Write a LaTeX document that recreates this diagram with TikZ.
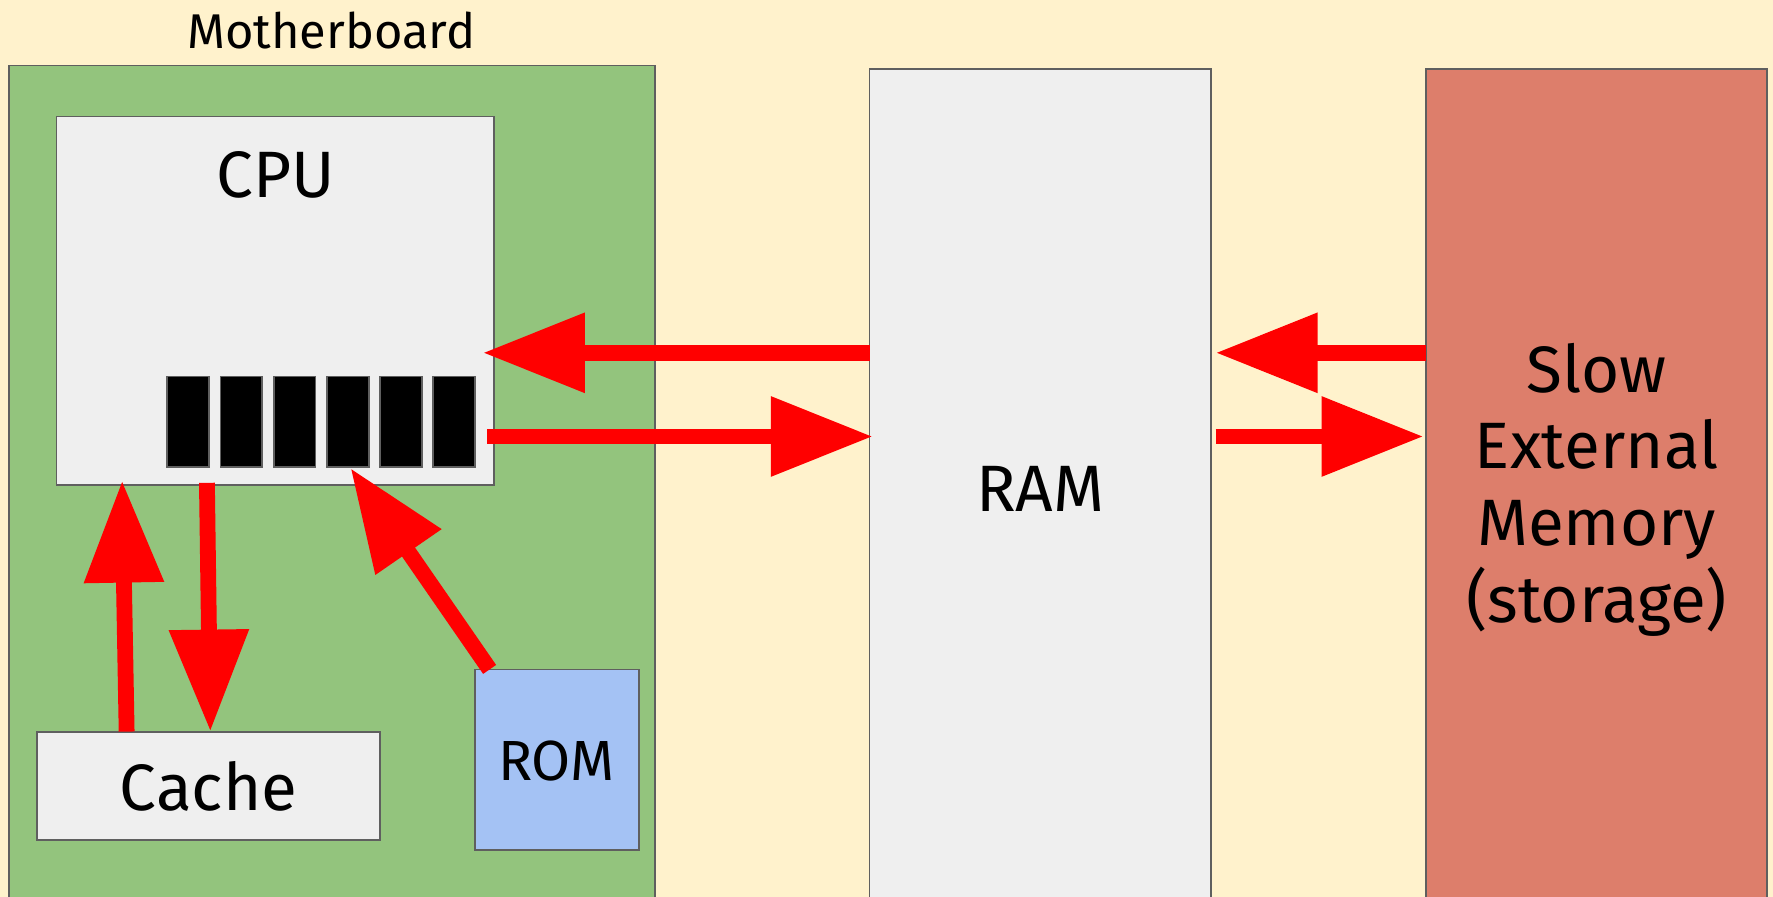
\documentclass[tikz,border=0pt]{standalone}
\usepackage{fontspec}
\setmainfont{Fira Sans}
\usetikzlibrary{arrows.meta,fit}

\definecolor{bgcream}{HTML}{FFF2CC}
\definecolor{boardgreen}{HTML}{93C47D}
\definecolor{chipgray}{HTML}{EFEFEF}
\definecolor{romblue}{HTML}{A4C2F4}
\definecolor{storesalmon}{HTML}{DD7E6B}
\definecolor{edgegray}{HTML}{5F5F5F}
\definecolor{busred}{HTML}{FF0000}

\begin{document}
\begin{tikzpicture}[x=0.5654pt,y=-0.5654pt,
  part/.style={draw=edgegray, line width=0.9pt, inner sep=0pt, outer sep=0pt},
  regbox/.style={part, fill=black},
  lbl/.style={font=\fontsize{32.8}{38.4}\selectfont, inner sep=0pt, align=center},
  bus/.style={draw=busred, line width=7.9pt,
    -{Triangle[length=51pt,width=38pt]}}]

% canvas
\useasboundingbox (0,0) rectangle (1568,793);
\clip (0,0) rectangle (1568,793);
\fill[bgcream] (0,0) rectangle (1568,793);

% boards and modules
\node[part, fill=boardgreen, fit={(8,58) (579,820)}] (board) {};
\node[font=\fontsize{24.4}{28}\selectfont, inner sep=0pt] (boardlbl) at (293,27) {Motherboard};

\node[part, fill=chipgray, fit={(50,103) (437,429)}] (cpu) {};
\node[lbl] (cpulbl) at (244,155) {CPU};

\foreach \i in {0,...,5} {
  \node[regbox, fit={({148+47*\i},333) ({185+47*\i},413)}] (reg\i) {};
}

\node[part, fill=chipgray, fit={(33,647) (336,743)}] (cache) {};
\node[lbl] at (cache.center) {Cache};

\node[part, fill=romblue, fit={(420,592) (565,752)}] (rom) {};
\node[lbl, font=\fontsize{28.3}{33}\selectfont] at (492,673) {ROM};

\node[part, fill=chipgray, fit={(769,61) (1071,820)}] (ram) {};
\node[lbl] (ramlbl) at (920,432) {RAM};

\node[part, fill=storesalmon, fit={(1261,61) (1563,820)}] (store) {};
\node[lbl] (storelbl) at (1412,433) {Slow\\External\\Memory\\(storage)};

% bus end points
\coordinate (cpuin)   at (427,312);
\coordinate (cpuout)  at (431,386);
\coordinate (ramin)   at (772,386);
\coordinate (ramrin)  at (1075,312);
\coordinate (ramrout) at (1075,386);
\coordinate (storein) at (1259,386);
\coordinate (cacheup) at (112,647);
\coordinate (cputop)  at (108,425);
\coordinate (cpudn)   at (183,427);
\coordinate (cachein) at (186,647);
\coordinate (romout)  at (433,592);
\coordinate (regin)   at (310,414);

% data paths
\draw[bus] (ram.west |- cpuin) -- (cpuin);
\draw[bus] (cpuout) -- (ramin);
\draw[bus] (store.west |- ramrin) -- (ramrin);
\draw[bus] (ramrout) -- (storein);
\draw[bus] (cacheup) -- (cputop);
\draw[bus] (cpudn) -- (cachein);
\draw[bus] (romout) -- (regin);
\end{tikzpicture}
\end{document}
